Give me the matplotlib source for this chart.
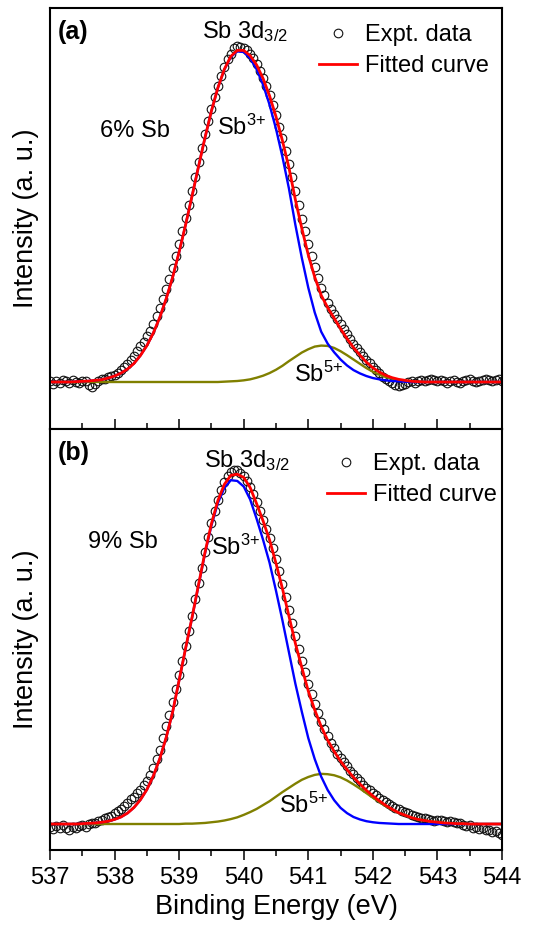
import numpy as np
import matplotlib
matplotlib.use("Agg")
import matplotlib.pyplot as plt
from matplotlib.lines import Line2D
from matplotlib.ticker import MultipleLocator

plt.rcParams['font.family'] = ['Liberation Sans', 'DejaVu Sans']
plt.rcParams['mathtext.fontset'] = 'custom'
plt.rcParams['mathtext.rm'] = 'Liberation Sans'
plt.rcParams['mathtext.it'] = 'Liberation Sans:italic'
plt.rcParams['mathtext.bf'] = 'Liberation Sans:bold'

# binding energy grids (eV): measured points every 0.05 eV, fit curves every 0.1 eV
energy = np.round(np.arange(537.0, 544.001, 0.05), 2)
energy_fit = np.round(np.arange(537.0, 544.001, 0.1), 1)

# ---- (a) 6% Sb ----
expt_a = [
    0.004, -0.006, 0.002, -0.004, 0.006, 0.003, -0.002, 0.005, 0.001, -0.003,
    0.004, 0.002, -0.008, -0.014, -0.006, 0.003, 0.008, 0.010, 0.014, 0.017,
    0.022, 0.028, 0.036, 0.044, 0.054, 0.066, 0.080, 0.094, 0.108, 0.122,
    0.138, 0.155, 0.174, 0.198, 0.224, 0.252, 0.280, 0.312, 0.345, 0.380,
    0.418, 0.455, 0.495, 0.535, 0.578, 0.620, 0.664, 0.706, 0.748, 0.788,
    0.826, 0.862, 0.895, 0.925, 0.952, 0.975, 0.992, 1.008, 1.015, 1.012,
    1.010, 1.004, 0.992, 0.978, 0.960, 0.940, 0.918, 0.893, 0.866, 0.836,
    0.806, 0.772, 0.736, 0.697, 0.658, 0.618, 0.578, 0.536, 0.494, 0.455,
    0.416, 0.380, 0.346, 0.313, 0.285, 0.262, 0.240, 0.222, 0.206, 0.190,
    0.176, 0.160, 0.145, 0.130, 0.116, 0.102, 0.090, 0.078, 0.066, 0.056,
    0.046, 0.036, 0.026, 0.016, 0.008, 0.002, -0.004, -0.008, -0.012, -0.010,
    -0.006, 0.000, 0.003, -0.002, 0.004, 0.006, 0.002, 0.005, 0.008, 0.006,
    0.003, 0.007, 0.004, -0.002, 0.003, 0.006, 0.001, -0.003, 0.002, 0.005,
    0.008, 0.004, 0.000, 0.003, 0.007, 0.010, 0.006, 0.002, 0.005, 0.008,
    0.004,
]
fit_a = [
    0, 0, 0, 0, 0.001, 0.002, 0.003, 0.005, 0.007, 0.012,
    0.018, 0.027, 0.039, 0.056, 0.080, 0.110, 0.148, 0.195, 0.252, 0.317,
    0.393, 0.475, 0.562, 0.651, 0.738, 0.819, 0.889, 0.945, 0.984, 1.002,
    1.002, 0.986, 0.958, 0.917, 0.865, 0.802, 0.729, 0.648, 0.551, 0.464,
    0.384, 0.317, 0.262, 0.225, 0.193, 0.161, 0.131, 0.104, 0.081, 0.060,
    0.043, 0.030, 0.020, 0.013, 0.008, 0.005, 0.002, 0.001, 0, 0,
    0, 0, 0, 0, 0, 0, 0, 0, 0, 0,
    0,
]
sb3_a = [
    0, 0, 0, 0, 0.001, 0.002, 0.003, 0.005, 0.007, 0.012,
    0.018, 0.027, 0.039, 0.056, 0.080, 0.110, 0.148, 0.195, 0.252, 0.317,
    0.393, 0.475, 0.562, 0.651, 0.738, 0.819, 0.889, 0.944, 0.982, 0.999,
    0.997, 0.978, 0.945, 0.898, 0.838, 0.765, 0.680, 0.585, 0.475, 0.375,
    0.285, 0.210, 0.152, 0.116, 0.090, 0.068, 0.050, 0.036, 0.026, 0.018,
    0.012, 0.008, 0.005, 0.003, 0.002, 0.001, 0, 0, 0, 0,
    0, 0, 0, 0, 0, 0, 0, 0, 0, 0,
    0,
]
sb5_a = [
    0, 0, 0, 0, 0, 0, 0, 0, 0, 0,
    0, 0, 0, 0, 0, 0, 0, 0, 0, 0,
    0, 0, 0, 0, 0, 0, 0, 0.001, 0.002, 0.003,
    0.005, 0.008, 0.013, 0.019, 0.027, 0.037, 0.049, 0.063, 0.076, 0.089,
    0.099, 0.107, 0.110, 0.109, 0.103, 0.093, 0.081, 0.068, 0.055, 0.042,
    0.031, 0.022, 0.015, 0.010, 0.006, 0.004, 0.002, 0.001, 0, 0,
    0, 0, 0, 0, 0, 0, 0, 0, 0, 0,
    0,
]

# ---- (b) 9% Sb ----
expt_b = [
    -0.008, -0.014, -0.006, -0.012, -0.004, -0.010, -0.016, -0.008, -0.012, -0.006,
    -0.002, -0.008, 0.000, 0.004, 0.002, 0.008, 0.012, 0.016, 0.020, 0.024,
    0.030, 0.036, 0.044, 0.052, 0.060, 0.070, 0.078, 0.088, 0.098, 0.110,
    0.124, 0.140, 0.160, 0.184, 0.212, 0.244, 0.278, 0.312, 0.348, 0.386,
    0.425, 0.466, 0.508, 0.550, 0.594, 0.640, 0.686, 0.730, 0.775, 0.818,
    0.858, 0.893, 0.925, 0.952, 0.975, 0.992, 1.004, 1.010, 1.008, 1.000,
    0.992, 0.978, 0.962, 0.940, 0.918, 0.893, 0.868, 0.842, 0.815, 0.786,
    0.754, 0.720, 0.684, 0.648, 0.610, 0.572, 0.535, 0.500, 0.466, 0.432,
    0.400, 0.370, 0.342, 0.316, 0.292, 0.270, 0.250, 0.232, 0.216, 0.200,
    0.188, 0.176, 0.164, 0.152, 0.142, 0.132, 0.122, 0.112, 0.104, 0.096,
    0.088, 0.082, 0.075, 0.068, 0.062, 0.057, 0.052, 0.047, 0.042, 0.038,
    0.034, 0.030, 0.027, 0.023, 0.020, 0.018, 0.016, 0.013, 0.011, 0.009,
    0.010, 0.012, 0.008, 0.006, 0.009, 0.005, 0.002, 0.004, -0.002, -0.006,
    -0.004, -0.010, -0.008, -0.014, -0.012, -0.018, -0.016, -0.022, -0.020, -0.026,
    -0.030,
]
fit_b = [
    0, 0, 0, 0, 0, 0.001, 0.002, 0.003, 0.005, 0.008,
    0.013, 0.020, 0.031, 0.047, 0.069, 0.098, 0.137, 0.186, 0.247, 0.320,
    0.410, 0.501, 0.589, 0.682, 0.774, 0.856, 0.922, 0.968, 0.994, 0.997,
    0.988, 0.959, 0.913, 0.864, 0.810, 0.743, 0.671, 0.593, 0.515, 0.446,
    0.379, 0.325, 0.278, 0.239, 0.207, 0.179, 0.155, 0.133, 0.114, 0.096,
    0.080, 0.066, 0.053, 0.042, 0.032, 0.025, 0.018, 0.013, 0.010, 0.007,
    0.005, 0.003, 0.002, 0.001, 0.001, 0, 0, 0, 0, 0,
    0,
]
sb3_b = [
    0, 0, 0, 0, 0, 0.001, 0.002, 0.003, 0.005, 0.008,
    0.013, 0.020, 0.031, 0.047, 0.069, 0.098, 0.137, 0.186, 0.247, 0.320,
    0.410, 0.500, 0.588, 0.680, 0.771, 0.851, 0.915, 0.958, 0.980, 0.978,
    0.962, 0.925, 0.870, 0.810, 0.745, 0.665, 0.580, 0.490, 0.400, 0.320,
    0.245, 0.185, 0.135, 0.097, 0.068, 0.046, 0.031, 0.020, 0.013, 0.008,
    0.005, 0.003, 0.002, 0.001, 0, 0, 0, 0, 0, 0,
    0, 0, 0, 0, 0, 0, 0, 0, 0, 0,
    0,
]
sb5_b = [
    0, 0, 0, 0, 0, 0, 0, 0, 0, 0,
    0, 0, 0, 0, 0, 0, 0, 0, 0, 0,
    0, 0.001, 0.001, 0.002, 0.003, 0.005, 0.007, 0.010, 0.014, 0.019,
    0.026, 0.034, 0.043, 0.054, 0.065, 0.078, 0.091, 0.103, 0.115, 0.126,
    0.134, 0.140, 0.143, 0.142, 0.139, 0.133, 0.124, 0.113, 0.101, 0.088,
    0.075, 0.063, 0.051, 0.041, 0.032, 0.025, 0.018, 0.013, 0.010, 0.007,
    0.005, 0.003, 0.002, 0.001, 0.001, 0, 0, 0, 0, 0,
    0,
]

RED = '#ff0000'
BLUE = '#0000ff'
OLIVE = '#808000'
FS = 17


def draw_panel(ax, expt, fit, sb3, sb5, tag, conc, ylim, txt, leg_anchor):
    ax.plot(energy, expt, 'o', ms=6.2, mfc='none', mec='#111111', mew=0.8)
    ax.plot(energy_fit, sb5, color=OLIVE, lw=1.7)
    ax.plot(energy_fit, sb3, color=BLUE, lw=1.7)
    ax.plot(energy_fit, fit, color=RED, lw=2.0)

    ax.set_xlim(537, 544)
    ax.set_ylim(*ylim)
    ax.set_yticks([])
    ax.xaxis.set_major_locator(MultipleLocator(1))
    ax.xaxis.set_minor_locator(MultipleLocator(0.5))
    for sp in ax.spines.values():
        sp.set_linewidth(1.5)
    ax.set_ylabel('Intensity (a. u.)', fontsize=19.5, labelpad=8)

    tr = ax.transAxes
    ax.text(0.018, txt['tag_y'], tag, transform=tr, fontsize=18, fontweight='bold',
            va='baseline')
    ax.text(txt['peak'][0], txt['peak'][1], r'Sb 3d$_{3/2}$', transform=tr,
            fontsize=FS, va='baseline')
    ax.text(txt['conc'][0], txt['conc'][1], conc, transform=tr, fontsize=FS,
            va='baseline')
    ax.text(txt['sb3'][0], txt['sb3'][1], r'Sb$^{3\!+}$', transform=tr,
            fontsize=FS, va='baseline')
    ax.text(txt['sb5'][0], txt['sb5'][1], r'Sb$^{5\!+}$', transform=tr,
            fontsize=FS, va='baseline')

    handles = [
        Line2D([], [], ls='none', marker='o', ms=6.2, mfc='none', mec='#111111', mew=0.8),
        Line2D([], [], color=RED, lw=2.0),
    ]
    ax.legend(handles, ['Expt. data', 'Fitted curve'], loc='upper left',
              bbox_to_anchor=leg_anchor, frameon=False, fontsize=FS,
              borderaxespad=0, borderpad=0, handlelength=1.6,
              handletextpad=0.35, labelspacing=0.39)


fig = plt.figure(figsize=(5.4, 9.33), dpi=100)
ax_a = fig.add_axes([0.0926, 0.5402, 0.837, 0.4512])
ax_b = fig.add_axes([0.0926, 0.0890, 0.837, 0.4512])

draw_panel(ax_a, expt_a, fit_a, sb3_a, sb5_a, '(a)', '6% Sb', (-0.142, 1.13),
           {'tag_y': 0.926, 'peak': (0.336, 0.929), 'conc': (0.111, 0.694),
            'sb3': (0.369, 0.698), 'sb5': (0.54, 0.112)},
           (0.595, 0.962))
draw_panel(ax_b, expt_b, fit_b, sb3_b, sb5_b, '(b)', '9% Sb', (-0.074, 1.126),
           {'tag_y': 0.926, 'peak': (0.341, 0.910), 'conc': (0.084, 0.717),
            'sb3': (0.356, 0.701), 'sb5': (0.507, 0.088)},
           (0.613, 0.943))

ax_a.tick_params(axis='x', which='both', direction='in', top=False,
                 labelbottom=False, width=1.1)
ax_a.tick_params(axis='x', which='major', length=7)
ax_a.tick_params(axis='x', which='minor', length=4.5)

ax_b.tick_params(axis='x', which='both', direction='out', top=False,
                 labelsize=17, pad=5, width=1.1)
ax_b.tick_params(axis='x', which='major', length=7)
ax_b.tick_params(axis='x', which='minor', length=4.5)
ax_b.set_xlabel('Binding Energy (eV)', fontsize=19.5, labelpad=4)

fig.savefig('out.png', dpi=100)
